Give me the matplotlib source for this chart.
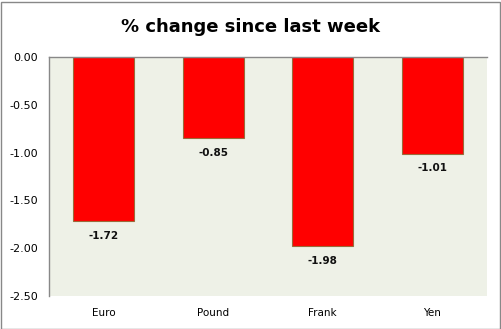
import matplotlib
matplotlib.use("Agg")
import matplotlib.pyplot as plt
from matplotlib.patches import Rectangle

categories = ["Euro", "Pound", "Frank", "Yen"]
values = [-1.72, -0.85, -1.98, -1.01]
yticks = [0.0, -0.5, -1.0, -1.5, -2.0, -2.5]
title = "% change since last week"

W, H = 502, 329
fig = plt.figure(figsize=(W / 100, H / 100), dpi=100)
fig.patch.set_facecolor("white")

# plot area in pixels: x 49..487, y 57..296
ax = fig.add_axes([49 / W, 1 - 296 / H, (487 - 49) / W, (296 - 57) / H])
ax.set_facecolor("#eef1e7")

x = list(range(len(categories)))
ax.bar(x, values, width=0.56, color="#ff0000", edgecolor="#9a6a3a", linewidth=0.8, zorder=2)
ax.set_xlim(-0.5, len(categories) - 0.5)
ax.set_ylim(-2.5, 0.0)

for xi, v in zip(x, values):
    ax.annotate(f"{v:.2f}", (xi, v), xytext=(0, -7), textcoords="offset points",
                ha="center", va="top", fontsize=7.5, fontweight="bold", color="#111111")

ax.set_yticks(yticks)
ax.set_yticklabels([f"{t:.2f}" for t in yticks], fontsize=8)
ax.set_xticks(x)
ax.set_xticklabels(categories, fontsize=7.5)
ax.tick_params(axis="y", length=0, pad=8)
ax.tick_params(axis="x", length=0, pad=9)

for s in ["right", "bottom"]:
    ax.spines[s].set_visible(False)
for s in ["left", "top"]:
    ax.spines[s].set_color("#888888")
    ax.spines[s].set_linewidth(1.0)

fig.text(251 / W, 1 - 27 / H, title, ha="center", va="center",
         fontsize=13, fontweight="bold", color="black")

fig.patches.append(Rectangle((0.5 / W, 0.5 / H), (W - 2) / W, (H - 2) / H,
                             transform=fig.transFigure, fill=False,
                             edgecolor="#888888", linewidth=1.0))

fig.savefig("out.png", dpi=100)
